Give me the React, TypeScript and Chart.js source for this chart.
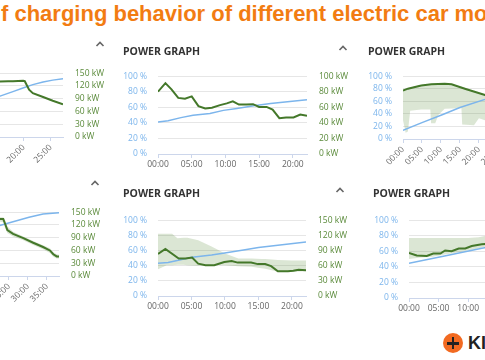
import React, { useEffect, useRef } from 'react';
import { Chart, registerables } from 'chart.js';
Chart.register(...registerables);
Chart.defaults.font.family = "'Open Sans', sans-serif";

// ---------- Chart A (top left, cropped) ----------
const aPowerTime = [0, 1, 3, 6, 9, 12, 15.6, 17.1, 18, 19.9, 20.2, 21, 21.7, 23.6, 25.4, 27.3];
const aPower = [95, 120, 128, 130, 131, 131, 130, 131, 131, 132, 131, 111, 103, 94, 85, 77];
const aSocTime = [0, 3, 6, 9, 12, 15.6, 18, 20, 21.7, 23.6, 25.4, 27.3];
const aSoc = [13, 22, 32, 42, 52, 64, 71, 77, 82, 86, 89, 91];
const aTicks = [0, 5, 10, 15, 20, 25];

// ---------- Chart B (top middle) ----------
const bPowerTime = [0, 1.1, 2, 3, 4, 5, 6, 7, 8, 9.2, 10.2, 11.1, 12, 13.1, 14.1, 15, 16.1, 17, 18, 19, 20.1, 21.1, 22.1];
const bPower = [80, 91, 83, 72, 71, 74, 61.5, 58.5, 59.5, 62.7, 65, 67.5, 63.5, 63.5, 64, 60.4, 60.4, 57, 46, 47, 47, 50.6, 49];
const bSocTime = [0, 1.5, 3.4, 5.2, 7.7, 9.7, 11.7, 14.2, 16.7, 19.2, 22.1];
const bSoc = [41, 42.6, 46.7, 49.8, 52, 56, 58.5, 62, 64.7, 67, 69.5];
const bTicks = [0, 5, 10, 15, 20];

// ---------- Chart C (top right, cropped) ----------
const cPowerTime = [0, 1.3, 4.8, 7.5, 11, 12.8, 16.3, 21.6, 23];
const cPower = [77, 80, 85, 87, 88, 87, 80, 70, 68];
const cBandTime = [0, 0.7, 1.3, 1.9, 4.8, 7.2, 7.4, 8.5, 9.3, 11, 15.4, 15.6, 18.7, 20, 21.6, 23];
const cBandLow = [30, 10, 12, 45, 47, 47, 25, 25, 38, 48, 49, 23, 22, 33, 30, 30];
const cBandHigh = [78, 79, 81, 82, 86, 88, 88, 88, 88.5, 89, 83, 83, 76, 73, 71, 69];
const cSocTime = [0, 5, 10.5, 15, 21.6, 23];
const cSoc = [14, 26, 39, 50, 63, 66];
const cTicks = [0, 5, 10, 15, 20, 25, 30, 35];

// ---------- Chart D (bottom left, cropped) ----------
const dPowerTime = [0, 1, 3, 8, 14, 20, 22.6, 23.5, 23.9, 24.6, 26.1, 28.8, 31.4, 34, 35.8, 36.7, 37.6, 38.2];
const dPower = [110, 128, 133, 134, 134, 134, 134, 134, 125, 108, 99, 89, 78, 68, 60, 51, 46, 46];
const dBandHigh = [116, 133, 137, 138, 138, 138, 138, 138, 134, 116, 104, 93, 82, 72, 65, 56, 51, 50];
const dBandLow = [100, 120, 128, 129, 129, 129, 128, 126, 115, 101, 93, 84, 73, 63, 54, 45, 41, 41];
const dSocTime = [0, 8, 16, 22.6, 30.3, 34, 38.2];
const dSoc = [10, 34, 58, 79, 92, 97, 99];
const dTicks = [0, 5, 10, 15, 20, 25, 30, 35];

// ---------- Chart E (bottom middle) ----------
const ePowerTime = [0, 1.1, 3.1, 4.1, 5.1, 6.0, 7.1, 8.4, 9.9, 11, 11.9, 13.9, 14.9, 16, 16.9, 17.9, 19.4, 20.2, 21, 22.1];
const ePower = [83, 93, 74, 74, 76, 64, 61, 61, 67, 69, 66, 66, 63, 63, 59, 49, 49, 50, 52, 51];
const eBandTime = [0, 1.3, 2.1, 2.9, 3.8, 4.4, 6, 8, 10, 12, 14, 15.4, 16, 17, 17.9, 20, 22.1];
const eBandHigh = [123, 123, 123, 114, 115, 115, 110, 98, 84, 74, 74, 73, 73, 72, 71, 70, 70];
const eBandLow = [53, 61, 61, 62, 62, 61, 60, 62, 61, 59, 58, 55, 54, 51, 48, 48, 49];
const eSocTime = [0, 1.5, 5.1, 8, 10.2, 13, 15, 17.9, 22.1];
const eSoc = [43, 44, 51, 54, 57, 61, 64, 67, 71];
const eTicks = [0, 5, 10, 15, 20];

// ---------- Chart F (bottom right, cropped) ----------
const fPowerTime = [0, 1.3, 3, 4.1, 5.3, 6.1, 7.2, 8.4, 9.5, 10.6, 12.3, 14];
const fPower = [58, 54.5, 54, 57, 57, 61, 60, 63.5, 63.5, 66.7, 69, 70];
const fBandTime = [0, 2, 4, 6, 8, 10, 11.8, 13, 14];
const fBandHigh = [77, 77, 77, 77, 77, 77, 78, 80, 80];
const fBandLow = [50, 52, 53, 56, 58, 61, 64, 66, 67];
const fSocTime = [0, 6, 12.3, 14];
const fSoc = [44.7, 54, 64, 66];
const fTicks = [0, 5, 10, 15, 20, 25];

const TITLE = 'f charging behavior of different electric car models';
const CARD_TITLE = 'POWER GRAPH';

const BLUE = '#7cb5ec';
const GREEN = '#44782a';
const GREEN_LABEL = '#5a8a3a';
const BAND = 'rgba(90,140,60,0.22)';

type Spec = {
  powerTime: number[]; power: number[];
  socTime: number[]; soc: number[];
  bandTime?: number[]; bandLow?: number[]; bandHigh?: number[];
  xTicks: number[]; xMax: number; kwMax: number; kwStep: number;
};
type Geo = { L: number; R: number; T: number; B: number; rotated: boolean };

const pts = (xs: number[], ys: number[]) => xs.map((x, i) => ({ x, y: ys[i] }));
const fmt = (v: number) => (v < 10 ? '0' : '') + v + ':00';

function PowerChart({ spec, geo }: { spec: Spec; geo: Geo }) {
  const ref = useRef<HTMLCanvasElement>(null);
  const LW = 50, RW = 52, PT = 10;
  const XH = geo.rotated ? 30 : 22;
  const width = geo.R - geo.L + LW + RW;
  const height = geo.B - geo.T + PT + XH;
  useEffect(() => {
    const datasets: any[] = [
      { data: pts(spec.powerTime, spec.power), yAxisID: 'yR', borderColor: GREEN, borderWidth: 2, pointRadius: 0, fill: false, order: 0 },
      { data: pts(spec.socTime, spec.soc), yAxisID: 'yL', borderColor: BLUE, borderWidth: 1.5, pointRadius: 0, fill: false, order: 1 },
    ];
    if (spec.bandTime && spec.bandLow && spec.bandHigh) {
      datasets.push({ data: pts(spec.bandTime, spec.bandLow), yAxisID: 'yR', borderWidth: 0, borderColor: 'rgba(0,0,0,0)', pointRadius: 0, fill: false, order: 3 });
      datasets.push({ data: pts(spec.bandTime, spec.bandHigh), yAxisID: 'yR', borderWidth: 0, borderColor: 'rgba(0,0,0,0)', backgroundColor: BAND, pointRadius: 0, fill: '-1', order: 2 });
    }
    const rot = geo.rotated ? 45 : 0;
    const chart = new Chart(ref.current as HTMLCanvasElement, {
      type: 'line',
      data: { datasets },
      options: {
        animation: false,
        responsive: false,
        devicePixelRatio: 1,
        layout: { padding: { top: PT, left: 0, right: 0, bottom: 0 } },
        plugins: { legend: { display: false }, tooltip: { enabled: false } },
        scales: {
          x: {
            type: 'linear', min: 0, max: spec.xMax,
            afterBuildTicks: (s: any) => { s.ticks = spec.xTicks.map((v) => ({ value: v })); },
            afterFit: (s: any) => { s.height = XH; },
            grid: { drawOnChartArea: false, tickLength: 4, color: '#ccd6eb' },
            border: { color: '#ccd6eb' },
            ticks: { autoSkip: false, minRotation: rot, maxRotation: rot, padding: 1.5, color: '#666', font: { size: 8.5 }, callback: (v: any) => fmt(Number(v)) },
          },
          yL: {
            position: 'left', min: 0, max: 100,
            afterFit: (s: any) => { s.width = LW; },
            ticks: { autoSkip: false, stepSize: 20, padding: 11, color: BLUE, font: { size: 8.5 }, callback: (v: any) => v + ' %' },
            grid: { color: '#e6e6e6', drawTicks: false },
            border: { display: false },
          },
          yR: {
            position: 'right', min: 0, max: spec.kwMax,
            afterFit: (s: any) => { s.width = RW; },
            ticks: { autoSkip: false, stepSize: spec.kwStep, padding: 12, color: GREEN_LABEL, font: { size: 8.5 }, callback: (v: any) => v + ' kW' },
            grid: { drawOnChartArea: false, drawTicks: false },
            border: { display: false },
          },
        },
      } as any,
    });
    return () => chart.destroy();
  }, []);
  return <canvas ref={ref} width={width} height={height} style={{ position: 'absolute', left: geo.L - LW, top: geo.T - PT, width, height }} />;
}

function CardTitle({ x, y }: { x: number; y: number }) {
  return (
    <div style={{ position: 'absolute', left: x, top: y - 7, height: 14, lineHeight: '14px', fontFamily: "'Open Sans', sans-serif", fontWeight: 700, fontSize: 10.5, color: '#333', whiteSpace: 'nowrap' }}>
      {CARD_TITLE}
    </div>
  );
}

function Caret({ x, y }: { x: number; y: number }) {
  return (
    <svg style={{ position: 'absolute', left: x - 5, top: y - 4 }} width={10} height={8}>
      <polyline points="1.5,6 5,2.5 8.5,6" fill="none" stroke="#666" strokeWidth={1.6} />
    </svg>
  );
}

const specs: { spec: Spec; geo: Geo }[] = [
  { spec: { powerTime: aPowerTime, power: aPower, socTime: aSocTime, soc: aSoc, xTicks: aTicks, xMax: 27.3, kwMax: 150, kwStep: 30 }, geo: { L: -84, R: 63, T: 66, B: 137, rotated: true } },
  { spec: { powerTime: bPowerTime, power: bPower, socTime: bSocTime, soc: bSoc, xTicks: bTicks, xMax: 22.1, kwMax: 100, kwStep: 20 }, geo: { L: 158, R: 307, T: 69, B: 154, rotated: false } },
  { spec: { powerTime: cPowerTime, power: cPower, socTime: cSocTime, soc: cSoc, bandTime: cBandTime, bandLow: cBandLow, bandHigh: cBandHigh, xTicks: cTicks, xMax: 39, kwMax: 100, kwStep: 20 }, geo: { L: 403, R: 551, T: 69, B: 139, rotated: true } },
  { spec: { powerTime: dPowerTime, power: dPower, socTime: dSocTime, soc: dSoc, bandTime: dPowerTime, bandLow: dBandLow, bandHigh: dBandHigh, xTicks: dTicks, xMax: 38.2, kwMax: 150, kwStep: 30 }, geo: { L: -86, R: 59, T: 205, B: 276, rotated: true } },
  { spec: { powerTime: ePowerTime, power: ePower, socTime: eSocTime, soc: eSoc, bandTime: eBandTime, bandLow: eBandLow, bandHigh: eBandHigh, xTicks: eTicks, xMax: 22.1, kwMax: 150, kwStep: 30 }, geo: { L: 158, R: 306, T: 213, B: 296, rotated: false } },
  { spec: { powerTime: fPowerTime, power: fPower, socTime: fSocTime, soc: fSoc, bandTime: fBandTime, bandLow: fBandLow, bandHigh: fBandHigh, xTicks: fTicks, xMax: 25, kwMax: 100, kwStep: 20 }, geo: { L: 409, R: 557, T: 213, B: 298, rotated: false } },
];

export default function App() {
  return (
    <div style={{ position: 'fixed', left: 0, top: 0, width: 485, height: 360, overflow: 'hidden', background: '#fff' }}>
      <div style={{ position: 'absolute', left: 1, top: 3, fontFamily: "'Liberation Sans', Arial, sans-serif", fontWeight: 700, fontSize: 22, lineHeight: 1, color: '#f27c12', whiteSpace: 'nowrap' }}>
        {TITLE}
      </div>
      {specs.map((s, i) => <PowerChart key={i} spec={s.spec} geo={s.geo} />)}
      <CardTitle x={123} y={51} />
      <CardTitle x={368} y={51} />
      <CardTitle x={123} y={193} />
      <CardTitle x={373} y={193} />
      <Caret x={100} y={44} />
      <Caret x={343} y={48} />
      <Caret x={95} y={183} />
      <Caret x={340} y={190} />
      <div style={{ position: 'absolute', left: 443, top: 333, width: 20, height: 20, borderRadius: 10, background: '#f26a21' }}>
        <div style={{ position: 'absolute', left: 4, top: 9, width: 12, height: 2.5, background: '#222' }} />
        <div style={{ position: 'absolute', left: 8.75, top: 4, width: 2.5, height: 12, background: '#222' }} />
      </div>
      <div style={{ position: 'absolute', left: 468, top: 333, fontFamily: "'Liberation Sans', Arial, sans-serif", fontWeight: 700, fontSize: 18, lineHeight: '20px', color: '#222', whiteSpace: 'nowrap' }}>
        KI
      </div>
    </div>
  );
}
